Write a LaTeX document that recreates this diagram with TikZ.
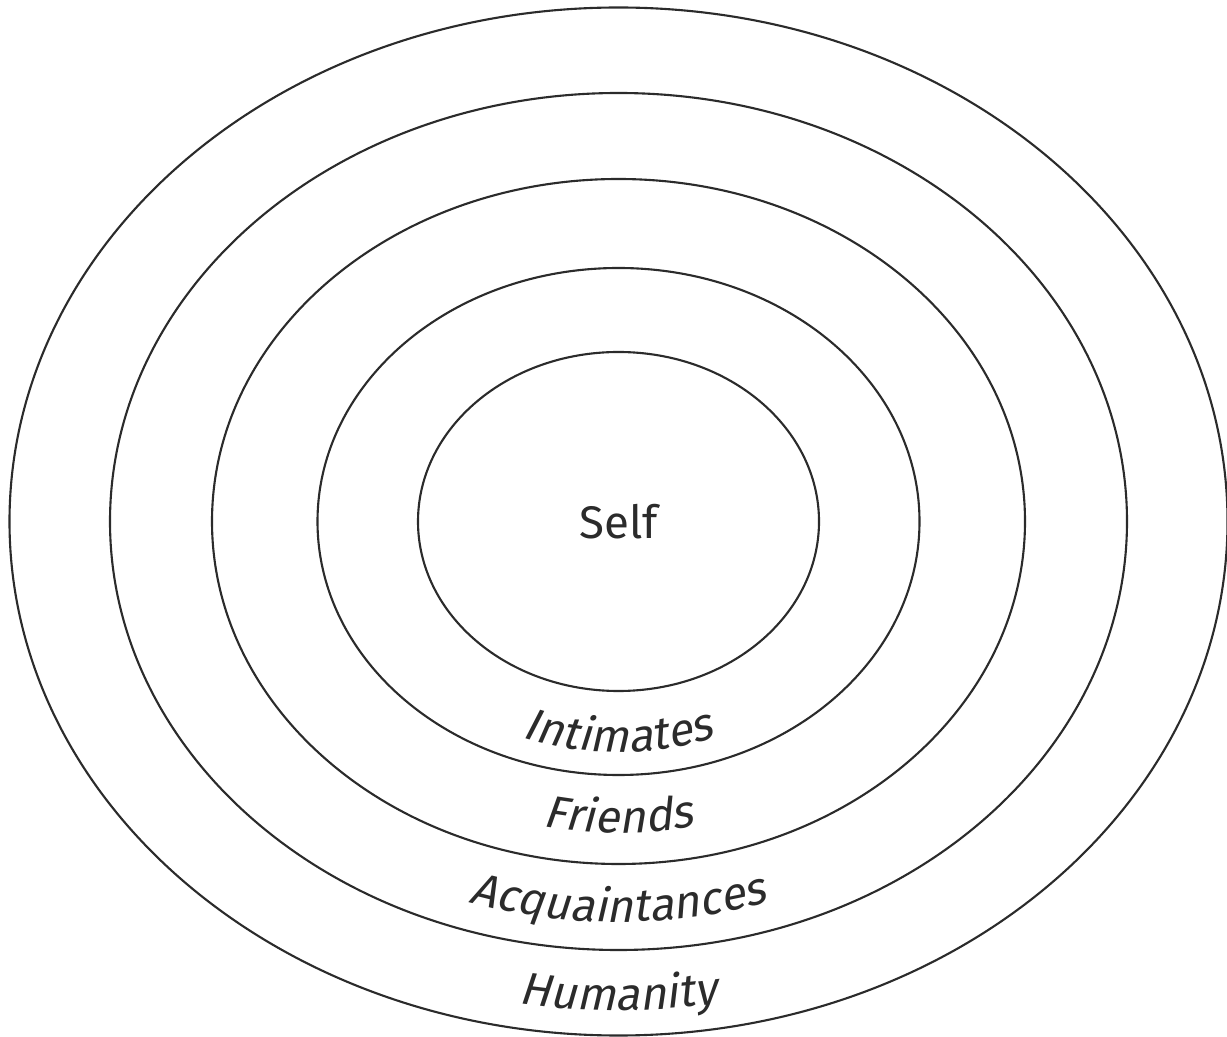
\documentclass[tikz,border=0pt]{standalone}
\usepackage{fontspec}
\setmainfont{Fira Sans}
\newfontfamily\slantfamily[FakeSlant=0.2]{Fira Sans}
\usetikzlibrary{decorations.text}
\definecolor{ink}{HTML}{2B2B2B}
\newcommand{\ringfont}{\slantfamily\fontsize{13}{15}\selectfont}
\tikzset{
  ring/.style={draw=ink,line width=0.6pt},
  ringlabel/.style={decorate,decoration={text along path,text align=center,text color=ink,text={|\ringfont|#1}}},
  selflabel/.style={font=\fontsize{13}{15}\selectfont,text=ink}
}

\begin{document}
\begin{tikzpicture}
  \useasboundingbox (0,0) rectangle (12.27,10.36);
  \coordinate (mid) at (6.185,5.145);
  % rings, outside in
  \draw[ring] (mid) ellipse [x radius=6.09,y radius=5.14];
  \draw[ring] (mid) ellipse [x radius=5.085,y radius=4.285];
  \draw[ring] (mid) ellipse [x radius=4.065,y radius=3.425];
  \draw[ring] (mid) ellipse [x radius=3.01,y radius=2.535];
  \draw[ring] (mid) ellipse [x radius=2.005,y radius=1.695];
  \node[selflabel] (self) at (mid) {Self};
  % curved labels under each ring
  \path[ringlabel=Intimates] ([shift={(200:2.78 and 2.305)}]mid) arc[start angle=200,end angle=340,x radius=2.78,y radius=2.305];
  \path[ringlabel=Friends] ([shift={(210:3.755 and 3.115)}]mid) arc[start angle=210,end angle=330,x radius=3.755,y radius=3.115];
  \path[ringlabel=Acquaintances] ([shift={(215:4.805 and 4.005)}]mid) arc[start angle=215,end angle=325,x radius=4.805,y radius=4.005];
  \path[ringlabel=Humanity] ([shift={(220:5.84 and 4.89)}]mid) arc[start angle=220,end angle=320,x radius=5.84,y radius=4.89];
\end{tikzpicture}
\end{document}
